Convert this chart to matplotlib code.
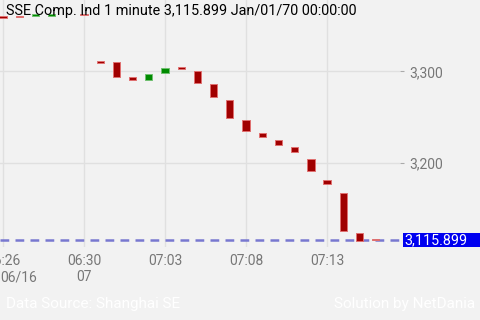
import matplotlib
matplotlib.use("Agg")
import matplotlib.pyplot as plt
import matplotlib.transforms as mtransforms
from matplotlib.patches import Rectangle

plt.rcParams['font.family'] = ['Roboto', 'DejaVu Sans']

# candle data (index position on the axis, open, close)
idx = [0, 1, 2, 3, 5, 6, 7, 8, 9, 10, 11, 12, 13, 14, 15, 16, 17, 18, 19, 20, 21, 22, 23]
opens = [3360.5, 3361.0, 3360.4, 3361.0, 3363.3, 3311.0, 3310.4, 3294.0, 3290.7, 3298.4, 3304.9,
         3300.5, 3286.3, 3268.9, 3247.0, 3232.8, 3225.1, 3217.5, 3204.4, 3181.4, 3167.2, 3123.5, 3117.0]
closes = [3358.5, 3359.0, 3362.4, 3363.0, 3361.3, 3309.0, 3294.0, 3290.7, 3297.3, 3303.8, 3302.7,
          3287.4, 3272.1, 3249.2, 3235.0, 3228.4, 3219.7, 3212.0, 3191.3, 3177.0, 3125.7, 3115.0, 3115.9]

tick_pos = [0, 5, 10, 15, 20]
tick_times = ["06:26", "06:30", "07:03", "07:08", "07:13"]
tick_dates = ["06/16", "07", "", "", ""]
y_ticks = [3200, 3300]
last_price = 3115.899

title = "SSE Comp. Ind 1 minute 3,115.899 Jan/01/70 00:00:00"

bg = '#f2f2f2'
red = '#a00000'
red_edge = '#e07070'
green = '#008a00'
green_edge = '#70c070'
label_gray = '#777777'

fig = plt.figure(figsize=(4.8, 3.2), dpi=100, facecolor=bg)
ax = fig.add_axes([0, 0.228, 0.8333, 0.772])
ax.set_facecolor(bg)

for i, o, c in zip(idx, opens, closes):
    up = c >= o
    ax.bar(i, abs(c - o), bottom=min(o, c), width=0.45,
           color=green if up else red, edgecolor=green_edge if up else red_edge,
           linewidth=0.7, zorder=3)

ax.set_xlim(-0.185, 24.5)
ax.set_ylim(3108.2, 3378.1)

# grid
for p in tick_pos:
    ax.axvline(p, color='#e0e0e0', lw=1, zorder=1)
for v in y_ticks:
    ax.axhline(v, color='#e0e0e0', lw=1, zorder=1)

# last price line
ax.axhline(last_price, color='#7878d0', lw=1.8, dashes=(3.5, 2.5), zorder=2)

for s in ax.spines.values():
    s.set_visible(False)

ax.yaxis.tick_right()
ax.set_yticks(y_ticks)
ax.set_yticklabels([f"{v:,}" for v in y_ticks])
ax.tick_params(axis='y', length=3, color='#aaaaaa', pad=4, labelsize=10, labelcolor=label_gray)

ax.set_xticks(tick_pos)
ax.set_xticklabels(tick_times)
ax.tick_params(axis='x', length=0, pad=5, labelsize=10, labelcolor=label_gray)

trans = mtransforms.blended_transform_factory(ax.transData, fig.transFigure)
for p, d in zip(tick_pos, tick_dates):
    if not d:
        continue
    if p == 0:
        fig.text(0.0, 0.134, d, ha='left', va='center', fontsize=10, color=label_gray)
    else:
        ax.text(p, 0.134, d, transform=trans, ha='center', va='center',
                fontsize=10, color=label_gray)

# last price box, stretching to the right edge
box_trans = mtransforms.blended_transform_factory(fig.transFigure, ax.transData)
fig.patches.append(Rectangle((0.8396, last_price - 7.8), 0.17, 15.6, transform=box_trans,
                             facecolor='#0000f0', edgecolor='none', zorder=5))
fig.text(0.8417, last_price, f"{last_price:,.3f}", transform=box_trans, ha='left', va='center',
         fontsize=10.3, color='white', zorder=6)

fig.text(0.012, 0.966, title, ha='left', va='center', fontsize=10.4, color='black')

fig.text(0.012, 0.05, "Data Source: Shanghai SE", ha='left', va='center', fontsize=11, color='white')
fig.text(0.99, 0.05, "Solution by NetDania", ha='right', va='center', fontsize=11, color='white')

fig.savefig("out.png", dpi=100, facecolor=bg)
